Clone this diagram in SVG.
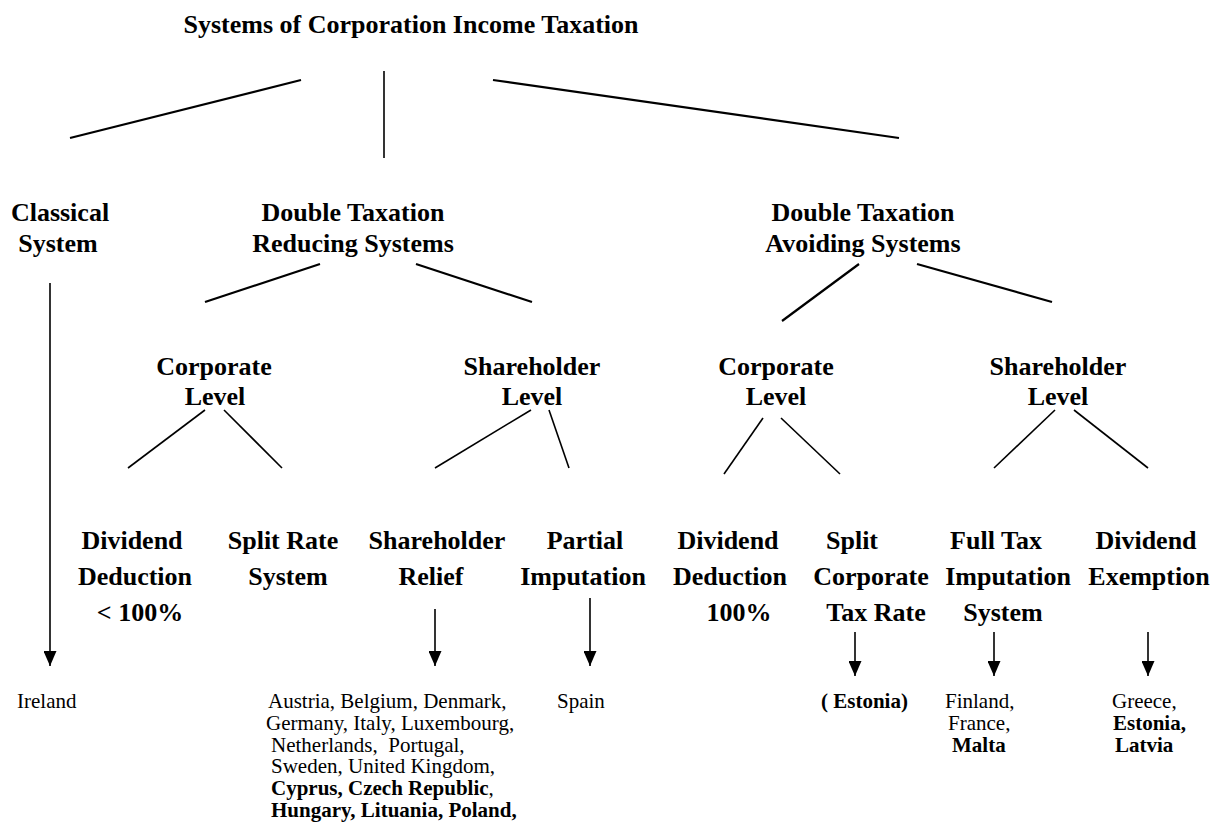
<svg xmlns="http://www.w3.org/2000/svg" width="1216" height="832" viewBox="0 0 1216 832">
<style>
.h{font-family:"Liberation Serif","Times New Roman",serif;font-weight:bold;font-size:26px;fill:#000;text-anchor:middle}
.t{font-family:"Liberation Serif","Times New Roman",serif;font-size:21px;fill:#000}
.b{font-weight:bold}
.l{stroke:#000;stroke-width:1.6;fill:none}
.lt{stroke:#000;stroke-width:2.2;fill:none}
</style>
<defs>
<marker id="ah" viewBox="0 0 15 13" refX="15" refY="6.5" markerWidth="15" markerHeight="13" markerUnits="userSpaceOnUse" orient="auto">
<path d="M0,0 L15,6.5 L0,13 Z" fill="#000"/>
</marker>
</defs>
<rect width="1216" height="832" fill="#fff"/>
<g id="title"><text class="h" x="411" y="33">Systems of Corporation Income Taxation</text></g>
<g id="connectors">
<line class="lt" x1="301" y1="80" x2="70" y2="138"/>
<line class="l" x1="384" y1="71" x2="384" y2="158"/>
<line class="lt" x1="493" y1="80" x2="899" y2="138"/>
<line class="lt" x1="320" y1="264" x2="205" y2="302"/>
<line class="lt" x1="416" y1="264" x2="532" y2="302"/>
<line class="lt" x1="859" y1="264" x2="782" y2="321"/>
<line class="lt" x1="917" y1="264" x2="1052" y2="302"/>
<line class="l" x1="205" y1="410" x2="128" y2="468"/>
<line class="l" x1="224" y1="410" x2="282" y2="468"/>
<line class="l" x1="531" y1="410" x2="435" y2="468"/>
<line class="l" x1="549" y1="410" x2="569" y2="468"/>
<line class="l" x1="763" y1="418" x2="724" y2="474"/>
<line class="l" x1="781" y1="418" x2="840" y2="474"/>
<line class="l" x1="1055" y1="410" x2="994" y2="468"/>
<line class="l" x1="1074" y1="410" x2="1148" y2="468"/>
<line class="l" x1="50" y1="283" x2="50" y2="666" marker-end="url(#ah)"/>
<line class="l" x1="435" y1="609" x2="435" y2="666" marker-end="url(#ah)"/>
<line class="l" x1="590" y1="598" x2="590" y2="666" marker-end="url(#ah)"/>
<line class="l" x1="855" y1="632" x2="855" y2="676" marker-end="url(#ah)"/>
<line class="l" x1="994" y1="632" x2="994" y2="676" marker-end="url(#ah)"/>
<line class="l" x1="1148" y1="632" x2="1148" y2="676" marker-end="url(#ah)"/>
</g>
<g id="classical"><text class="h" x="60" y="221">Classical</text><text class="h" x="58" y="252">System</text></g>
<g id="dtr"><text class="h" x="353" y="221">Double Taxation</text><text class="h" x="353" y="252">Reducing Systems</text></g>
<g id="dta"><text class="h" x="863" y="221">Double Taxation</text><text class="h" x="863" y="252">Avoiding Systems</text></g>
<g id="corp1"><text class="h" x="214" y="375">Corporate</text><text class="h" x="215" y="405">Level</text></g>
<g id="share1"><text class="h" x="532" y="375">Shareholder</text><text class="h" x="532" y="405">Level</text></g>
<g id="corp2"><text class="h" x="776" y="375">Corporate</text><text class="h" x="776" y="405">Level</text></g>
<g id="share2"><text class="h" x="1058" y="375">Shareholder</text><text class="h" x="1058" y="405">Level</text></g>
<g id="divded1"><text class="h" x="132" y="549">Dividend</text><text class="h" x="135" y="585">Deduction</text><text class="h" x="140" y="621">&lt; 100%</text></g>
<g id="splitrate"><text class="h" x="283" y="549">Split Rate</text><text class="h" x="288" y="585">System</text></g>
<g id="shrelief"><text class="h" x="437" y="549">Shareholder</text><text class="h" x="431" y="585">Relief</text></g>
<g id="partial"><text class="h" x="585" y="549">Partial</text><text class="h" x="583" y="585">Imputation</text></g>
<g id="divded2"><text class="h" x="728" y="549">Dividend</text><text class="h" x="730" y="585">Deduction</text><text class="h" x="739" y="621">100%</text></g>
<g id="splitcorp"><text class="h" x="852" y="549">Split</text><text class="h" x="871" y="585">Corporate</text><text class="h" x="876" y="621">Tax Rate</text></g>
<g id="fulltax"><text class="h" x="996" y="549">Full Tax</text><text class="h" x="1008" y="585">Imputation</text><text class="h" x="1003" y="621">System</text></g>
<g id="divexempt"><text class="h" x="1146" y="549">Dividend</text><text class="h" x="1149" y="585">Exemption</text></g>
<g id="ireland"><text class="t" x="17" y="708">Ireland</text></g>
<g id="reliefcountries">
<text class="t" x="268" y="708">Austria, Belgium, Denmark,</text>
<text class="t" x="266" y="730">Germany, Italy, Luxembourg,</text>
<text class="t" x="271" y="751.5" xml:space="preserve">Netherlands,  Portugal,</text>
<text class="t" x="271" y="773">Sweden, United Kingdom,</text>
<text class="t" x="271" y="795"><tspan class="b">Cyprus, Czech Republic</tspan>,</text>
<text class="t b" x="271" y="816.5">Hungary, Lituania, Poland,</text>
</g>
<g id="spain"><text class="t" x="557" y="708">Spain</text></g>
<g id="estonia1"><text class="t b" x="821" y="708">( Estonia)</text></g>
<g id="fullcountries"><text class="t" x="945" y="708">Finland,</text><text class="t" x="948" y="730">France,</text><text class="t b" x="952" y="751.5">Malta</text></g>
<g id="exemptcountries"><text class="t" x="1112" y="708">Greece,</text><text class="t b" x="1113" y="730">Estonia,</text><text class="t b" x="1115" y="751.5">Latvia</text></g>
</svg>
